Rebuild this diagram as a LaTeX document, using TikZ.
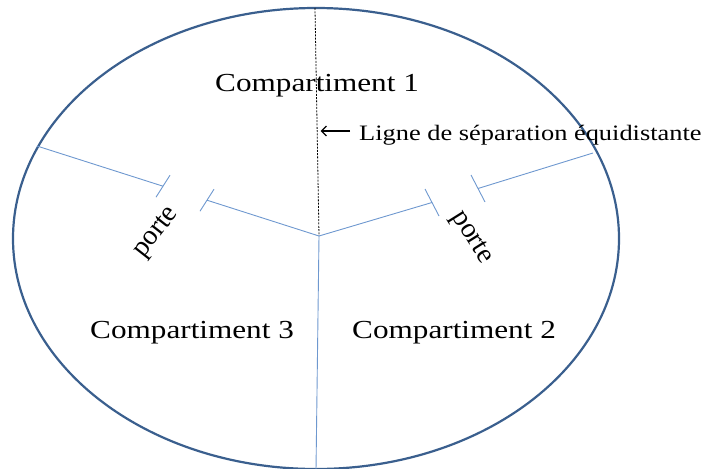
\documentclass[tikz,border=0pt]{standalone}
\usepackage{fontspec}
\setmainfont{Liberation Serif}
\usetikzlibrary{arrows.meta,calc}
\definecolor{rim}{HTML}{3A5F8E}
\definecolor{wall}{HTML}{6E98CF}
\tikzset{
  big/.style={font=\fontsize{26}{31}\selectfont, inner sep=0pt, xscale=1.2},
  small/.style={font=\fontsize{22}{26}\selectfont, inner sep=0pt, xscale=1.2},
  doorlbl/.style={font=\fontsize{28}{32}\selectfont, inner sep=1pt, fill=white},
  wallline/.style={draw=wall, line width=0.9pt},
  sepline/.style={draw=black, line width=0.8pt, dash pattern=on 2pt off 1.3pt},
}
\begin{document}
\begin{tikzpicture}[x=1pt, y=-1pt]
\useasboundingbox (0,0) rectangle (706,468);
% named points
\coordinate (top) at (315,8);
\coordinate (c) at (319,236);
\coordinate (bot) at (316,470);
\coordinate (eL) at (37,146);
\coordinate (eR) at (593,153);
\coordinate (dL1) at (163,186.2);
\coordinate (dL2) at (207,200.2);
\coordinate (dR1) at (432,202.5);
\coordinate (dR2) at (478,188.5);
% outer wall
\draw[rim, line width=2.2pt] (316,238.5) ellipse [x radius=303, y radius=230.5];
% separation line (dashed)
\draw[sepline] (top) -- (c);
% walls
\draw[wallline] (c) -- (bot);
\draw[wallline] (eL) -- (dL1);
\draw[wallline] (dL2) -- (c);
\draw[wallline] (c) -- (dR1);
\draw[wallline] (dR2) -- (eR);
% door jambs
\draw[wallline] ($(dL1)+(-7,11)$) -- ($(dL1)+(7,-11)$);
\draw[wallline] ($(dL2)+(-7,11)$) -- ($(dL2)+(7,-11)$);
\draw[wallline] ($(dR1)+(-7,-13.5)$) -- ($(dR1)+(7,13.5)$);
\draw[wallline] ($(dR2)+(-7,-13.5)$) -- ($(dR2)+(7,13.5)$);
% door labels
\node[doorlbl, rotate=52] (pL) at (157,233) {porte};
\node[doorlbl, rotate=-58] (pR) at (471,238) {porte};
% compartment labels
\node[big, anchor=base west] (c1) at (215,92) {Compartiment 1};
\node[big, anchor=base west] (c3) at (90,338) {Compartiment 3};
\node[big, anchor=base west] (c2) at (352,338) {Compartiment 2};
% separation label and arrow
\node[small, anchor=base west] (lig) at (359,140) {Ligne de séparation équidistante};
\coordinate (as) at (350,131);
\coordinate (at) at (320.5,131);
\draw[line width=1.4pt, -{Straight Barb[length=5pt,width=10pt]}] (as) -- (at);
\end{tikzpicture}
\end{document}
